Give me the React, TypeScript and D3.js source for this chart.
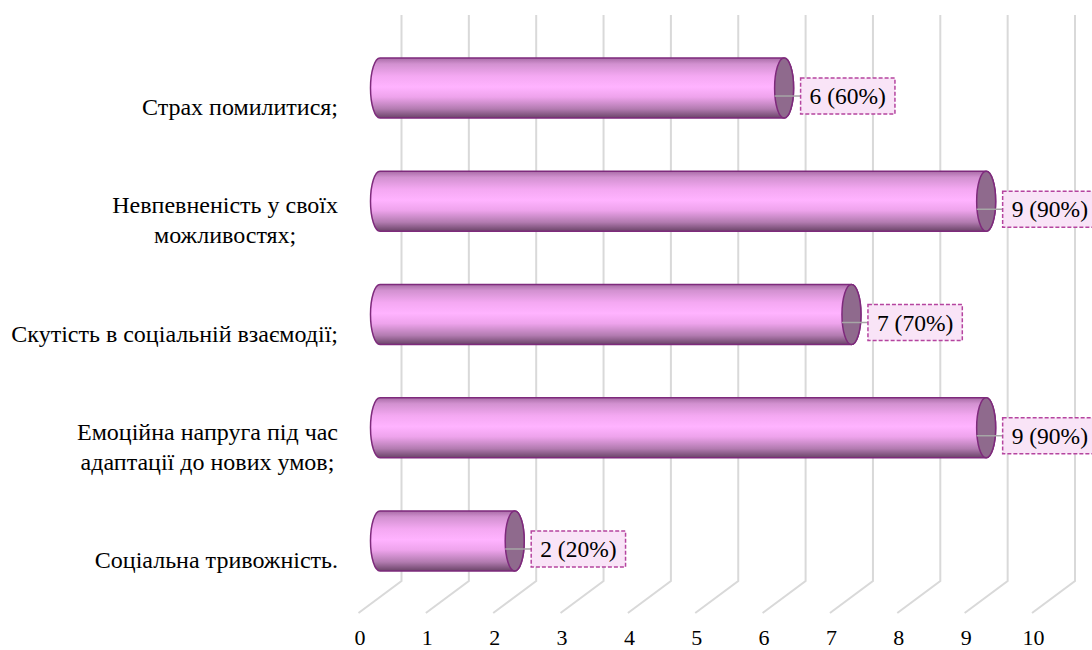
import React from "react";
import * as d3 from "d3";

const categories: string[][] = [
  ["Страх помилитися;"],
  ["Невпевненість у своїх", "можливостях;"],
  ["Скутість в соціальній взаємодії;"],
  ["Емоційна напруга під час", "адаптації до нових умов;"],
  ["Соціальна тривожність."],
];
const values: number[] = [6, 9, 7, 9, 2];
const labels: string[] = ["6 (60%)", "9 (90%)", "7 (70%)", "9 (90%)", "2 (20%)"];
const ticks: number[] = [0, 1, 2, 3, 4, 5, 6, 7, 8, 9, 10];

const W = 1092;
const H = 650;
const FONT = "Liberation Serif";

if (typeof document !== "undefined") {
  document.body.style.margin = "0";
  document.body.style.overflow = "hidden";
}

let ctx: CanvasRenderingContext2D | null = null;
function measure(text: string, size: number): number {
  if (!ctx && typeof document !== "undefined") {
    ctx = document.createElement("canvas").getContext("2d");
  }
  if (!ctx) return text.length * size * 0.45;
  ctx.font = `${size}px "${FONT}"`;
  return ctx.measureText(text).width;
}

export default function App() {
  const x = d3.scaleLinear().domain([0, 10]).range([401.5, 1075]);
  const y = d3
    .scaleBand<number>()
    .domain(d3.range(categories.length))
    .range([31.4, 597.6])
    .paddingInner(0.47)
    .paddingOuter(0.235);

  const depthX = 43;
  const depthY = 32;
  const barShift = 21.5;
  const gridTop = 15;
  const gridBottom = 581;
  const rx = 9.5;
  const labelRight = 338;
  const catSize = 24;
  const tickSize = 22;
  const valSize = 23.5;
  const lineH = 30;

  return (
    <svg width={W} height={H} style={{ display: "block" }} fontFamily={FONT}>
      <defs>
        <linearGradient id="cyl" x1="0" y1="0" x2="0" y2="1">
          <stop offset="0%" stopColor="#a86ca6" />
          <stop offset="10%" stopColor="#d291d0" />
          <stop offset="30%" stopColor="#f4a8f2" />
          <stop offset="48%" stopColor="#ffb3ff" />
          <stop offset="65%" stopColor="#eea3ec" />
          <stop offset="85%" stopColor="#b27bb0" />
          <stop offset="100%" stopColor="#6a4468" />
        </linearGradient>
      </defs>

      {ticks.map((t) => (
        <path
          key={"g" + t}
          d={`M${x(t)},${gridTop} L${x(t)},${gridBottom} L${x(t) - depthX},${gridBottom + depthY}`}
          fill="none"
          stroke="#d9d9d9"
          strokeWidth={2}
        />
      ))}

      {ticks.map((t) => (
        <text
          key={"t" + t}
          x={x(t) - depthX + 1.5}
          y={645}
          textAnchor="middle"
          fontFamily={FONT}
          fontSize={tickSize}
          fill="#000"
        >
          {t}
        </text>
      ))}

      {values.map((v, i) => {
        const top = y(i)!;
        const h = y.bandwidth();
        const bottom = top + h;
        const cy = top + h / 2;
        const x0 = x(0) - barShift;
        const x1 = x(v) - barShift;
        const ry = h / 2;
        const body = `M${x0},${top} L${x1},${top} A${rx},${ry} 0 0 1 ${x1},${bottom} L${x0},${bottom} A${rx},${ry} 0 0 1 ${x0},${top} Z`;
        const tw = measure(labels[i], valSize);
        const boxW = tw + 18;
        const boxH = 36;
        const boxX = x1 + rx + 7;
        const boxCy = cy + 8;
        return (
          <g key={"b" + i}>
            <path d={body} fill="url(#cyl)" stroke="#7e2a7c" strokeWidth={1.5} />
            <ellipse cx={x1} cy={cy} rx={rx} ry={ry} fill="#8f6a8d" stroke="#7e2a7c" strokeWidth={1.5} />
            <line x1={x1 - rx} y1={boxCy} x2={boxX} y2={boxCy} stroke="#a6a6a6" strokeWidth={1.5} />
            <rect
              x={boxX}
              y={boxCy - boxH / 2}
              width={boxW}
              height={boxH}
              fill="#f9e4f7"
              stroke="#b5449f"
              strokeWidth={1.5}
              strokeDasharray="4,2"
            />
            <text
              x={boxX + boxW / 2}
              y={boxCy + 8}
              textAnchor="middle"
              fontFamily={FONT}
              fontSize={valSize}
              fill="#000"
            >
              {labels[i]}
            </text>
          </g>
        );
      })}

      {categories.map((lines, i) => {
        const cy = y(i)! + y.bandwidth() / 2;
        const maxW = d3.max(lines, (l) => measure(l, catSize)) ?? 0;
        const cx = labelRight - maxW / 2;
        const n = lines.length;
        return (
          <text key={"c" + i} fontFamily={FONT} fontSize={catSize} fill="#000" textAnchor="middle">
            {lines.map((l, j) => (
              <tspan key={j} x={cx} y={cy + 27 + (j - (n - 1) / 2) * lineH}>
                {l}
              </tspan>
            ))}
          </text>
        );
      })}
    </svg>
  );
}
